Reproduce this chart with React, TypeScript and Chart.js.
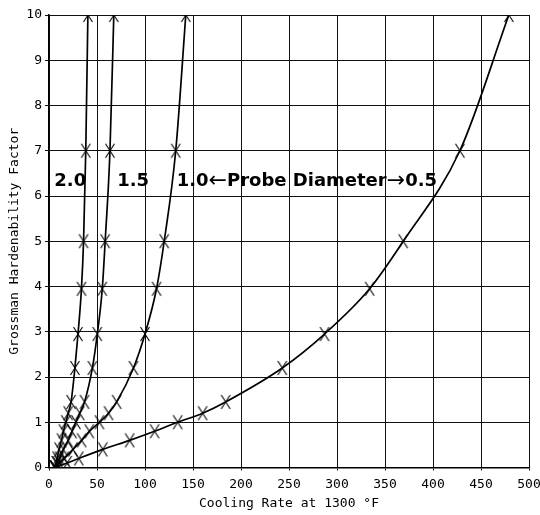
import React, { useEffect, useRef } from "react";
import { Chart, registerables } from "chart.js";

Chart.register(...registerables);

const xTicks = [0, 50, 100, 150, 200, 250, 300, 350, 400, 450, 500];
const yTicks = [0, 1, 2, 3, 4, 5, 6, 7, 8, 9, 10];

// Grossman H values (shared by all probe diameters)
const hValues = [0, 0.1, 0.2, 0.4, 0.6, 0.8, 1.0, 1.2, 1.45, 2.2, 2.95, 3.95, 5, 7, 10];

// cooling rate for each probe diameter
const rate20 = [6, 7.5, 8.5, 10.5, 13, 15, 17.5, 20, 23, 27, 30.2, 33.8, 36, 38.3, 40.5];
const rate15 = [6, 8.5, 11, 15, 20, 24, 28, 32, 37, 45.2, 50.3, 55.5, 58.5, 63.5, 67.5];
const rate10 = [6, 11, 16, 25, 34, 42, 52.6, 62, 70.5, 88, 100, 112, 120, 132, 142.5];
const rate05 = [6, 19, 31, 56, 84, 110, 134, 160, 184, 243, 287, 334, 369, 428, 479];

const labelTexts = ["2.0", "1.5", "1.0", "\u2190", "Probe Diameter", "\u2192", "0.5"];
const labelX = [5.5, 71, 133];
const labelY = [6.35, 6.35, 6.35];

const toPts = (xs: number[], ys: number[]) => xs.map((x, i) => ({ x, y: ys[i] }));

function makeX(): HTMLCanvasElement {
  const c = document.createElement("canvas");
  c.width = 12;
  c.height = 16;
  const g = c.getContext("2d")!;
  g.strokeStyle = "#000";
  g.lineWidth = 1.1;
  g.beginPath();
  g.moveTo(1.5, 1);
  g.lineTo(10.5, 15);
  g.moveTo(10.5, 1);
  g.lineTo(1.5, 15);
  g.stroke();
  return c;
}

export default function App() {
  const ref = useRef<HTMLCanvasElement | null>(null);
  useEffect(() => {
    if (!ref.current) return;
    const xImg = makeX();
    const labelPlugin = {
      id: "labels",
      afterDatasetsDraw(chart: any) {
        const ctx = chart.ctx;
        const xs = chart.scales.x;
        const ys = chart.scales.y;
        const bold = "bold 18px 'DejaVu Sans', sans-serif";
        const arrow = "22px 'DejaVu Sans', sans-serif";
        ctx.save();
        ctx.textBaseline = "middle";
        ctx.textAlign = "left";
        ctx.fillStyle = "#000";
        const drawPiece = (t: string, font: string, px: number, py: number) => {
          ctx.font = font;
          const w = ctx.measureText(t).width;
          ctx.fillText(t, px, py + 1);
          return w;
        };
        for (let i = 0; i < 2; i++) {
          drawPiece(labelTexts[i], bold, xs.getPixelForValue(labelX[i]), ys.getPixelForValue(labelY[i]));
        }
        let px = xs.getPixelForValue(labelX[2]);
        const py = ys.getPixelForValue(labelY[2]);
        const fonts = [bold, arrow, bold, arrow, bold];
        for (let k = 2; k < labelTexts.length; k++) {
          px += drawPiece(labelTexts[k], fonts[k - 2], px, py);
        }
        ctx.restore();
      },
    };
    const mk = (xs: number[], ys: number[]) => ({
      data: toPts(xs, ys),
      showLine: true,
      borderColor: "#000",
      borderWidth: 1.7,
      pointStyle: xImg as any,
      pointRadius: 6,
      backgroundColor: "#000",
      cubicInterpolationMode: "monotone" as const,
      fill: false,
    });
    const tickFont = { family: "'DejaVu Sans Mono', monospace", size: 13 };
    const chart = new Chart(ref.current, {
      type: "scatter",
      data: {
        datasets: [mk(rate20, hValues), mk(rate15, hValues), mk(rate10, hValues), mk(rate05, hValues)],
      },
      options: {
        animation: false,
        responsive: false,
        maintainAspectRatio: false,
        layout: { padding: { left: 0, top: 15, right: 11, bottom: 0 } },
        plugins: { legend: { display: false }, tooltip: { enabled: false } },
        scales: {
          x: {
            type: "linear",
            min: 0,
            max: 500,
            afterBuildTicks: (s: any) => {
              s.ticks = xTicks.map((v) => ({ value: v }));
            },
            afterFit: (s: any) => {
              s.height = 47.5;
              s.paddingRight = 0;
              s.paddingLeft = 0;
            },
            ticks: { color: "#000", font: tickFont, padding: 6 },
            grid: { color: "#111", lineWidth: 1, tickLength: 3, tickColor: "#111" },
            border: { color: "#000", width: 1.5 },
            title: {
              display: true,
              text: "Cooling Rate at 1300 \u00B0F",
              color: "#000",
              font: { family: "'DejaVu Sans Mono', monospace", size: 13 },
              padding: { top: 2, bottom: 4 },
            },
          },
          y: {
            type: "linear",
            min: 0,
            max: 10,
            afterBuildTicks: (s: any) => {
              s.ticks = yTicks.map((v) => ({ value: v }));
            },
            afterFit: (s: any) => {
              s.width = 49;
              s.paddingTop = 0;
              s.paddingBottom = 0;
            },
            ticks: { color: "#000", font: tickFont, padding: 3 },
            grid: { color: "#111", lineWidth: 1, tickLength: 4, tickColor: "#111" },
            border: { color: "#000", width: 1.5 },
            title: {
              display: true,
              text: "Grossman Hardenability Factor",
              color: "#000",
              font: { family: "'DejaVu Sans Mono', monospace", size: 13 },
              padding: { top: 7, bottom: 2 },
            },
          },
        },
      },
      plugins: [labelPlugin],
    });
    return () => chart.destroy();
  }, []);
  return (
    <div style={{ position: "absolute", left: 0, top: 0, width: 540, height: 515, background: "#fff" }}>
      <canvas ref={ref} width={540} height={515} style={{ display: "block" }} />
    </div>
  );
}
